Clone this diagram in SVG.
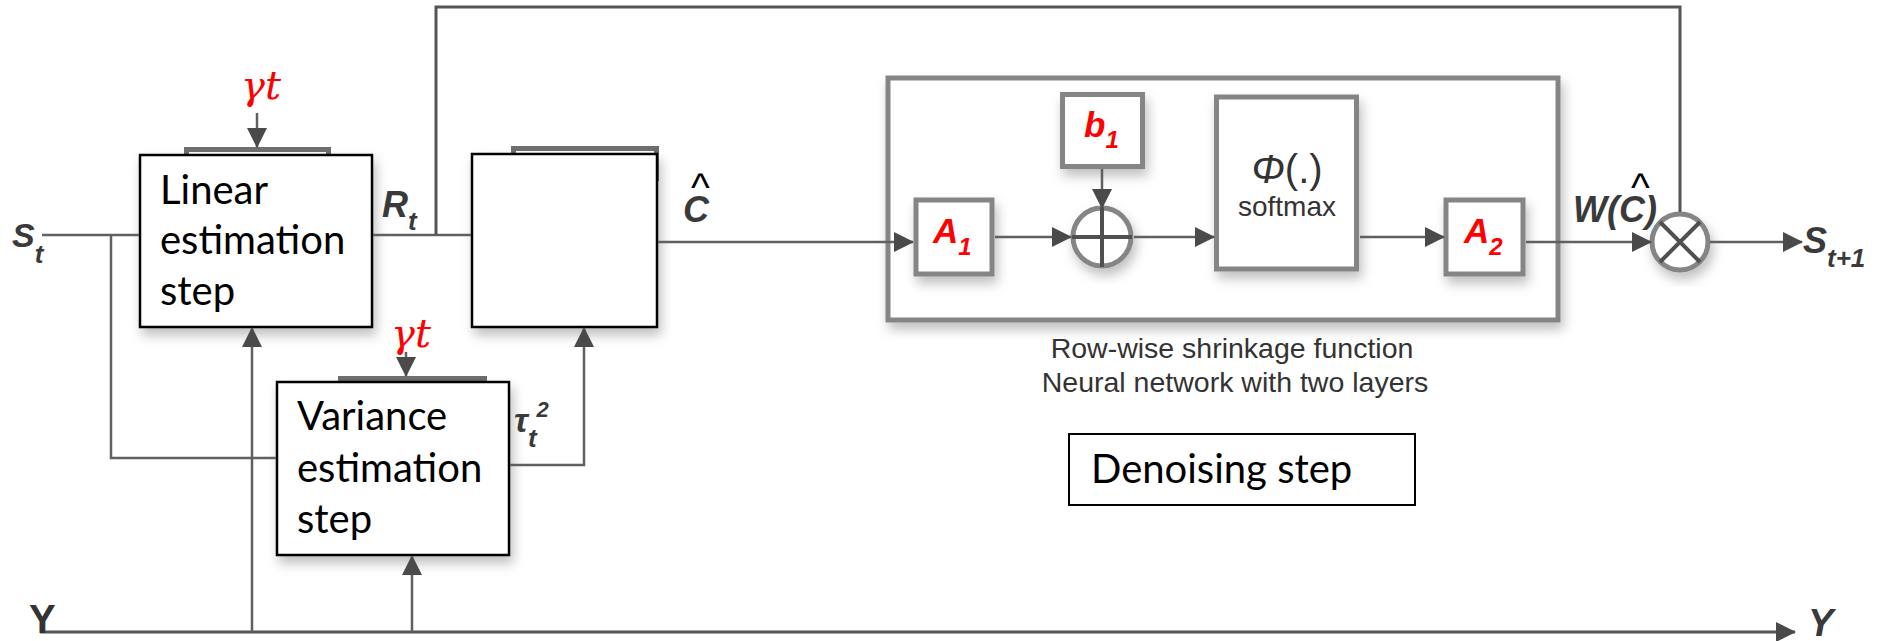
<svg xmlns="http://www.w3.org/2000/svg" width="1881" height="641" viewBox="0 0 1881 641">
<defs>
<style>
.conn{fill:none;stroke:#606060;stroke-width:2.5}
.thick{stroke-width:3;stroke:#555}
.lbl{font-family:"Liberation Sans",Arial,sans-serif;font-weight:bold;font-style:italic;fill:#3a3a3a}
.hat{font-weight:normal;font-style:normal;fill:#000;font-size:40px}
.box{fill:#fff;stroke:#000;stroke-width:2.5}
.back{fill:#fff;stroke:#6e6e6e;stroke-width:5}
.gbox{fill:#fff;stroke:#858585;stroke-width:5}
.txt{font-family:Lato,"Noto Sans",sans-serif;font-size:40px;fill:#000}
.red{fill:#ff0000}
.gam{font-family:"DejaVu Serif","Liberation Serif",serif;font-style:italic;fill:#ff0000;font-size:40px}
.sans{font-family:"Liberation Sans",Arial,sans-serif;fill:#333}
.cross{stroke:#505050;stroke-width:4}
</style>
<marker id="ah" markerUnits="userSpaceOnUse" markerWidth="20" markerHeight="20" refX="19" refY="10" orient="auto">
<path d="M0,0 L20,10 L0,20 z" fill="#4a4a4a"/>
</marker>
<filter id="sh" x="-20%" y="-20%" width="150%" height="150%">
<feDropShadow dx="3" dy="7" stdDeviation="6" flood-color="#000" flood-opacity="0.25"/>
</filter>
</defs>
<rect width="1881" height="641" fill="#fff"/>

<g id="linear-estimation">
<rect class="back" x="186.5" y="149.5" width="142" height="30"/>
<rect class="box" x="140" y="155" width="232" height="172" filter="url(#sh)"/>
<text class="txt" x="160" y="204">Linear</text>
<text class="txt" x="160" y="254">estimation</text>
<text class="txt" x="160" y="305">step</text>
</g>

<g id="middle-box">
<rect class="back" x="513.5" y="148.5" width="143" height="30"/>
<rect class="box" x="472" y="154" width="185" height="173" filter="url(#sh)"/>
</g>

<g id="variance-estimation">
<rect class="back" x="340.5" y="378.5" width="144" height="30"/>
<rect class="box" x="277" y="382" width="232" height="173" filter="url(#sh)"/>
<text class="txt" x="297" y="430">Variance</text>
<text class="txt" x="297" y="482">estimation</text>
<text class="txt" x="297" y="533">step</text>
</g>

<g id="shrinkage">
<rect class="gbox" x="888" y="78" width="670" height="242" filter="url(#sh)"/>
<text class="sans" x="1232" y="358" font-size="28.5" text-anchor="middle" fill="#404040">Row-wise shrinkage function</text>
<text class="sans" x="1235" y="392" font-size="28.5" text-anchor="middle" fill="#404040">Neural network with two layers</text>
</g>

<g id="A1">
<rect class="gbox" x="916" y="200" width="76" height="74" filter="url(#sh)"/>
<text class="lbl red" x="933" y="243" font-size="35">A<tspan font-size="24" dy="12">1</tspan></text>
</g>

<g id="b1">
<rect class="gbox" x="1062.5" y="94.5" width="80" height="72" filter="url(#sh)"/>
<text class="lbl red" x="1084" y="137" font-size="35">b<tspan font-size="24" dy="11">1</tspan></text>
</g>

<g id="sum">
<circle cx="1102" cy="237" r="29" fill="#fff" stroke="#858585" stroke-width="5" filter="url(#sh)"/>
<path class="cross" d="M1072,237 H1132 M1102,207 V267"/>
</g>

<g id="softmax">
<rect class="gbox" x="1216.5" y="97" width="140" height="172" filter="url(#sh)"/>
<text class="sans" x="1287" y="183" font-size="40" text-anchor="middle"><tspan font-style="italic">Φ</tspan>(.)</text>
<text class="sans" x="1287" y="216" font-size="28" text-anchor="middle">softmax</text>
</g>

<g id="A2">
<rect class="gbox" x="1446" y="200" width="77" height="74" filter="url(#sh)"/>
<text class="lbl red" x="1464" y="243" font-size="35">A<tspan font-size="24" dy="12">2</tspan></text>
</g>

<g id="multiply">
<circle cx="1680" cy="242" r="28" fill="#fff" stroke="#858585" stroke-width="5" filter="url(#sh)"/>
<path class="cross" d="M1660,222 L1700,262 M1700,222 L1660,262"/>
</g>

<g id="denoising-step">
<rect x="1069" y="434" width="346" height="71" fill="#fff" stroke="#000" stroke-width="2"/>
<text class="txt" x="1091" y="483">Denoising step</text>
</g>

<g id="connectors">
<path class="conn" d="M42,235 H139"/>
<path class="conn" d="M111,235 V458 H276"/>
<path class="conn" d="M373,235 H471"/>
<path class="conn thick" d="M436,235 V7 H1680 V212"/>
<path class="conn" d="M658,242 H913" marker-end="url(#ah)"/>
<path class="conn" d="M995,237 H1071" marker-end="url(#ah)"/>
<path class="conn" d="M1102,169 V208" marker-end="url(#ah)"/>
<path class="conn" d="M1134,237 H1214" marker-end="url(#ah)"/>
<path class="conn" d="M1360,237 H1444" marker-end="url(#ah)"/>
<path class="conn" d="M1526,242 H1651" marker-end="url(#ah)"/>
<path class="conn" d="M1710,242 H1802" marker-end="url(#ah)"/>
<path class="conn" d="M257,113 V147" marker-end="url(#ah)"/>
<path class="conn" d="M406,352 V376" marker-end="url(#ah)"/>
<path class="conn thick" d="M40,632 H1795" marker-end="url(#ah)"/>
<path class="conn" d="M252,632 V328" marker-end="url(#ah)"/>
<path class="conn" d="M412,632 V556" marker-end="url(#ah)"/>
<path class="conn" d="M510,465 H584 V328" marker-end="url(#ah)"/>
</g>

<g id="labels">
<text class="gam" x="241" y="99">γt</text>
<text class="gam" x="391" y="347">γt</text>
<text class="lbl" x="12" y="247" font-size="34">S<tspan font-size="26" dy="16">t</tspan></text>
<text class="lbl" x="382" y="217" font-size="36">R<tspan font-size="26" dy="13">t</tspan></text>
<text class="lbl" x="683" y="222" font-size="36">C<tspan class="hat" x="691" y="201">^</tspan></text>
<text class="lbl" x="514" y="432" font-size="34">τ<tspan font-size="26" dy="15">t</tspan><tspan font-size="22" dy="-30">2</tspan></text>
<text class="lbl" x="1573" y="222" font-size="36">W(C)<tspan class="hat" x="1631" y="201">^</tspan></text>
<text class="lbl" x="1803" y="253" font-size="36">S<tspan font-size="26" dy="14">t+1</tspan></text>
<text x="29" y="633" font-family="Liberation Sans,Arial,sans-serif" font-weight="bold" font-size="40" fill="#333">Y</text>
<text class="lbl" x="1808" y="636" font-size="38" fill="#333">Y</text>
</g>
</svg>
